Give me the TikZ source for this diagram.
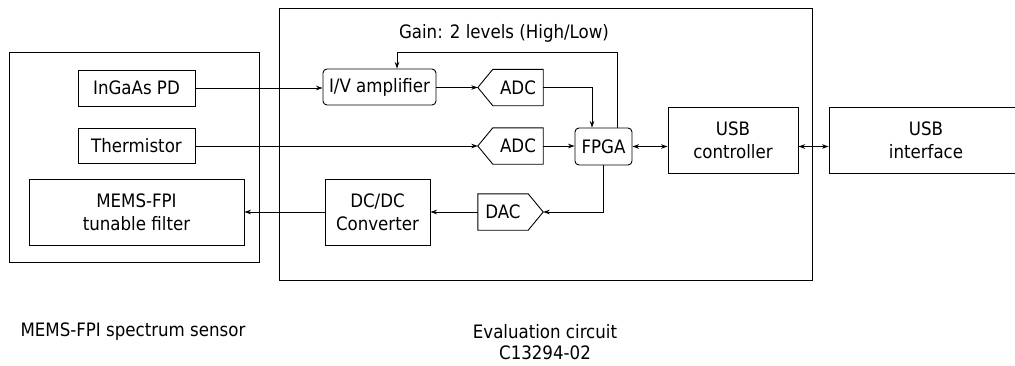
\documentclass[tikz,border=0pt]{standalone}
\usepackage{fontspec}
\setmainfont{DejaVu Sans Condensed}
\usetikzlibrary{arrows.meta,calc}
\tikzset{
  ln/.style={line width=0.9pt, black},
  arr/.style={ln, -{Stealth[length=6.5pt,width=4.5pt]}},
  darr/.style={ln, {Stealth[length=6.5pt,width=4.5pt]}-{Stealth[length=6.5pt,width=4.5pt]}},
  box/.style={draw, ln, rectangle, inner sep=0pt, align=center, font=\fontsize{18.5}{23}\selectfont},
  rbox/.style={box, rounded corners=4pt},
  conv/.style={rectangle, inner sep=0pt, minimum width=50pt, minimum height=36pt, font=\fontsize{18.5}{23}\selectfont},
  txt/.style={inner sep=0pt, align=center, font=\fontsize{18.5}{21.5}\selectfont},
}
\begin{document}
\begin{tikzpicture}[x=1pt,y=-1pt]
\useasboundingbox (0,0) rectangle (1015,365);
\clip (0,0) rectangle (1015,365);
% outer frames
\node[box, minimum width=250pt, minimum height=210pt] (sensor) at (134,157) {};
\node[box, minimum width=533pt, minimum height=272pt] (evalc) at (545.5,144) {};
% sensor blocks
\node[box, minimum width=117pt, minimum height=36pt] (pd) at (136.5,88) {InGaAs PD};
\node[box, minimum width=117pt, minimum height=35pt] (th) at (136.5,145.5) {Thermistor};
\node[box, minimum width=215pt, minimum height=66pt] (fpi) at (136.5,212) {MEMS-FPI\\tunable filter};
% evaluation circuit blocks
\node[rbox, minimum width=113pt, minimum height=36pt] (iv) at (379.5,87) {I/V amplifier};
\node[conv] (adca) at (518,87.5) {ADC};
\node[conv] (adcb) at (518,146) {ADC};
\node[conv] (dac) at (503,212) {DAC};
\node[rbox, minimum width=57pt, minimum height=37pt] (fpga) at (603.5,146.5) {FPGA};
\node[box, minimum width=105pt, minimum height=66pt] (dcdc) at (377.5,212) {DC/DC\\Converter};
\node[box, minimum width=130pt, minimum height=66pt] (usbc) at (733,140) {USB\\controller};
\node[box, minimum width=194pt, minimum height=66pt] (usbi) at (926,140) {USB\\interface};
% converter outlines
\coordinate (adcatip) at ($(adca.west)+(-15,0)$);
\coordinate (adcbtip) at ($(adcb.west)+(-15,0)$);
\coordinate (dactip) at ($(dac.east)+(15,0)$);
\draw[ln] (adca.north west) -- (adca.north east) -- (adca.south east) -- (adca.south west) -- (adcatip) -- cycle;
\draw[ln] (adcb.north west) -- (adcb.north east) -- (adcb.south east) -- (adcb.south west) -- (adcbtip) -- cycle;
\draw[ln] (dac.north east) -- (dac.north west) -- (dac.south west) -- (dac.south east) -- (dactip) -- cycle;
% gain label
\node[txt] (gain) at (504,33) {Gain: 2 levels (High/Low)};
% connectors
\draw[arr] (pd.east) -- (pd.east -| iv.west);
\draw[arr] (iv.east |- adcatip) -- (adcatip);
\draw[arr] (adca.east) -| ($(fpga.north)+(-11.5,0)$);
\coordinate (fbtop) at ($(fpga.north)+(13.5,-75)$);
\draw[arr] ($(fpga.north)+(13.5,0)$) -- (fbtop) -| ($(iv.north)+(17.5,0)$);
\draw[arr] (th.east |- adcbtip) -- (adcbtip);
\draw[arr] (adcb.east) -- (adcb.east -| fpga.west);
\draw[arr] (fpga.south) |- (dactip);
\draw[arr] (dac.west) -- (dac.west -| dcdc.east);
\draw[arr] (dcdc.west) -- (dcdc.west -| fpi.east);
\draw[darr] (fpga.east) -- (fpga.east -| usbc.west);
\draw[darr] (usbc.east |- fpga.east) -- (usbi.west |- fpga.east);
% captions
\node[txt] (capa) at (133,332) {MEMS-FPI spectrum sensor};
\node[txt] (capb) at (545,342) {Evaluation circuit\\C13294-02};
\end{tikzpicture}
\end{document}
